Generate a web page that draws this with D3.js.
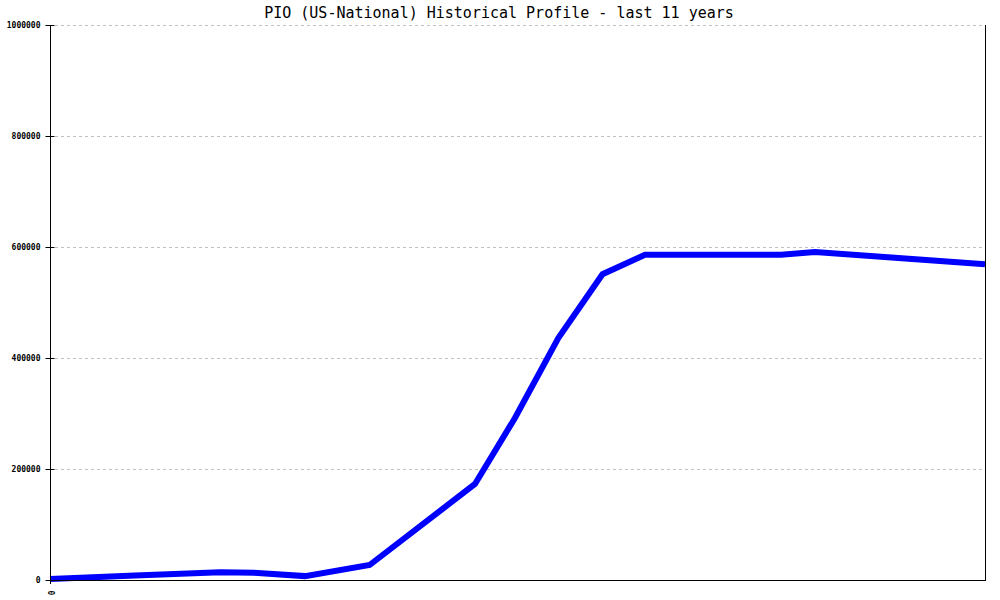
<!DOCTYPE html>
<html>
<head>
<meta charset="utf-8">
<script src="https://cdn.jsdelivr.net/npm/d3@7"></script>
<style>
  html, body { margin: 0; padding: 0; background: #fff; }
  svg { display: block; }
</style>
</head>
<body>
<svg id="chart" width="1000" height="600"></svg>
<script>
// Data: time in years from start of the 11-year window, and values
const years  = [0, 1, 2, 2.4, 3, 3.76, 5, 5.47, 5.98, 6.5, 7, 8.6, 9, 11];
const values = [2000, 8000, 14000, 13000, 7000, 27000, 173000, 292000, 436000, 551000, 586000, 586000, 591000, 569000];
const yTicks = [0, 200000, 400000, 600000, 800000, 1000000];
const xTickLabels = ["0"];
const title = "PIO (US-National) Historical Profile - last 11 years";

(function () {
const svg = d3.select("#chart");
const mLeft = 50, mRight = 985, mTop = 25, mBottom = 580;

const x = d3.scaleLinear().domain([0, 11]).range([mLeft, mRight]);
const y = d3.scaleLinear().domain([0, 1000000]).range([mBottom, mTop]);

// Grid lines
svg.append("g").selectAll("line").data(yTicks.filter(d => d > 0)).join("line")
  .attr("x1", mLeft + 5).attr("x2", mRight)
  .attr("y1", d => y(d) + 0.5).attr("y2", d => y(d) + 0.5)
  .attr("stroke", "#c0c0c0").attr("stroke-width", 1)
  .attr("stroke-dasharray", "3,3");

// Data line
const line = d3.line().x((d, i) => x(years[i])).y(d => y(d));
svg.append("path").datum(values)
  .attr("d", line)
  .attr("fill", "none")
  .attr("stroke", "#0000ff")
  .attr("stroke-width", 6)
  .attr("stroke-linejoin", "miter");

// Axes frame
svg.append("line").attr("x1", mLeft + 0.5).attr("x2", mLeft + 0.5).attr("y1", mTop).attr("y2", mBottom + 4)
  .attr("stroke", "#000").attr("stroke-width", 1);
svg.append("line").attr("x1", mRight + 0.5).attr("x2", mRight + 0.5).attr("y1", mTop).attr("y2", mBottom)
  .attr("stroke", "#000").attr("stroke-width", 1);
svg.append("line").attr("x1", mLeft).attr("x2", mRight + 1).attr("y1", mBottom + 0.5).attr("y2", mBottom + 0.5)
  .attr("stroke", "#000").attr("stroke-width", 1);

// Y axis ticks + labels
const yAxis = d3.axisLeft(y).tickValues(yTicks).tickSize(5).tickPadding(5).tickFormat(d3.format("d"));
const gy = svg.append("g").attr("transform", `translate(${mLeft + 0.5},0)`).call(yAxis);
gy.select(".domain").remove();
gy.selectAll(".tick line").attr("x2", -5).attr("x1", 4).attr("stroke", "#000");
gy.selectAll(".tick text")
  .attr("font-family", "DejaVu Sans Mono, monospace")
  .attr("font-size", "8px")
  .attr("font-weight", "bold")
  .attr("fill", "#000");

// X label "0" rotated
svg.append("g").selectAll("text").data(xTickLabels).join("text")
  .attr("transform", d => `translate(${x(+d) - 2.5},${mBottom + 13}) rotate(90)`)
  .attr("text-anchor", "middle")
  .attr("font-family", "DejaVu Sans Mono, monospace")
  .attr("font-size", "8px")
  .attr("font-weight", "bold")
  .text(d => d);

// Title
svg.append("text")
  .attr("x", 499).attr("y", 18)
  .attr("text-anchor", "middle")
  .attr("font-family", "DejaVu Sans Mono, monospace")
  .attr("font-size", "15px")
  .attr("fill", "#000")
  .text(title);
})();
</script>
</body>
</html>
